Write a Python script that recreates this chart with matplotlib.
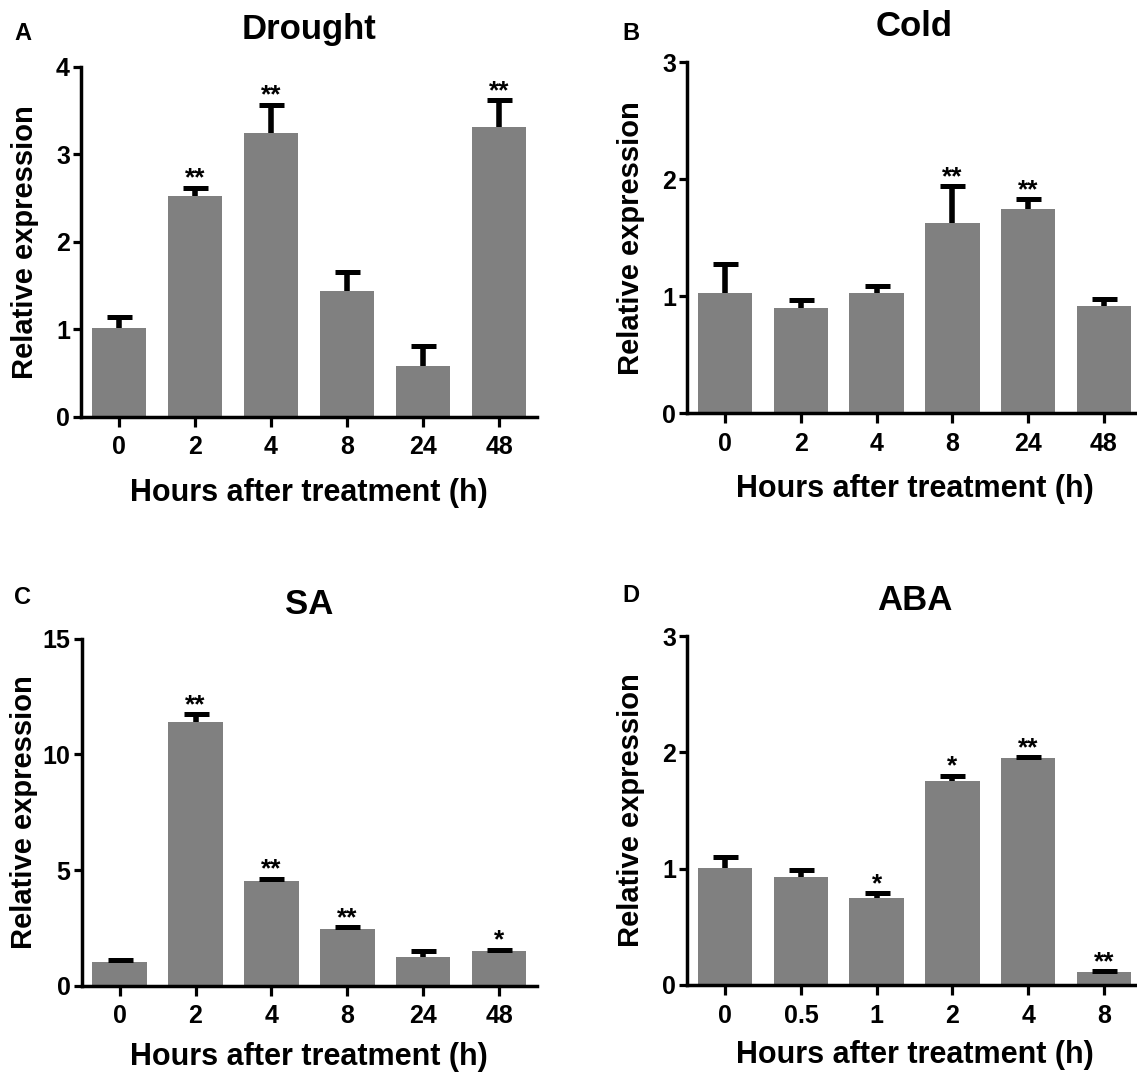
import matplotlib
matplotlib.use("Agg")
import matplotlib.pyplot as plt

plt.rcParams['font.family'] = ['Liberation Sans', 'DejaVu Sans']
plt.rcParams['font.weight'] = 'bold'

# ---- data ----
drought_labels = ["0", "2", "4", "8", "24", "48"]
drought_vals = [1.01, 2.53, 3.25, 1.44, 0.58, 3.31]
drought_err = [0.13, 0.09, 0.32, 0.22, 0.23, 0.31]
drought_sig = ["", "**", "**", "", "", "**"]

cold_labels = ["0", "2", "4", "8", "24", "48"]
cold_vals = [1.03, 0.90, 1.03, 1.63, 1.75, 0.92]
cold_err = [0.25, 0.07, 0.06, 0.31, 0.08, 0.06]
cold_sig = ["", "", "", "**", "**", ""]

sa_labels = ["0", "2", "4", "8", "24", "48"]
sa_vals = [1.03, 11.41, 4.52, 2.47, 1.26, 1.48]
sa_err = [0.10, 0.33, 0.10, 0.07, 0.26, 0.08]
sa_sig = ["", "**", "**", "**", "", "*"]

aba_labels = ["0", "0.5", "1", "2", "4", "8"]
aba_vals = [1.01, 0.93, 0.75, 1.75, 1.95, 0.11]
aba_err = [0.09, 0.06, 0.04, 0.05, 0.01, 0.01]
aba_sig = ["", "", "*", "*", "**", "**"]

W, H = 1137, 1077
fig = plt.figure(figsize=(W / 100, H / 100), dpi=100)


def px_rect(left, right, top, bottom):
    return [left / W, 1 - bottom / H, (right - left) / W, (bottom - top) / H]


panels = [
    dict(rect=px_rect(81, 537, 67, 416.7), labels=drought_labels, vals=drought_vals,
         err=drought_err, sig=drought_sig, ymax=4, yticks=[0, 1, 2, 3, 4],
         title="Drought", letter="A", letter_xy=(14, 34), title_y=30,
         ylab_x=25, xlab_y=493),
    dict(rect=px_rect(687.3, 1141.7, 62.3, 413.3), labels=cold_labels, vals=cold_vals,
         err=cold_err, sig=cold_sig, ymax=3, yticks=[0, 1, 2, 3],
         title="Cold", letter="B", letter_xy=(622, 34), title_y=26,
         ylab_x=631, xlab_y=489),
    dict(rect=px_rect(81.7, 537, 638.6, 985.7), labels=sa_labels, vals=sa_vals,
         err=sa_err, sig=sa_sig, ymax=15, yticks=[0, 5, 10, 15],
         title="SA", letter="C", letter_xy=(14, 598), title_y=604,
         ylab_x=24, xlab_y=1057),
    dict(rect=px_rect(687.3, 1141.7, 636, 985), labels=aba_labels, vals=aba_vals,
         err=aba_err, sig=aba_sig, ymax=3, yticks=[0, 1, 2, 3],
         title="ABA", letter="D", letter_xy=(622, 596), title_y=601,
         ylab_x=631, xlab_y=1055),
]

for p in panels:
    ax = fig.add_axes(p["rect"])
    x = list(range(len(p["labels"])))
    tops = [v + e for v, e in zip(p["vals"], p["err"])]
    ax.bar(x, p["vals"], width=0.72, color="#808080", zorder=2)
    ax.errorbar(x, p["vals"], yerr=[[0] * len(x), p["err"]], fmt="none",
                ecolor="black", elinewidth=4.0, capsize=0, zorder=3)
    ax.plot(x, tops, linestyle="none", marker="_", markersize=18,
            markeredgewidth=3.6, color="black", zorder=3)
    for xi, t, s in zip(x, tops, p["sig"]):
        if s:
            ax.annotate(s, (xi, t), xytext=(0, 1.5), textcoords="offset points",
                        ha="center", va="baseline", fontsize=19, fontweight="bold")
    ax.set_xlim(-0.5, 5.5)
    ax.set_ylim(0, p["ymax"])
    ax.set_yticks(p["yticks"])
    ax.set_xticks(x)
    ax.set_xticklabels(p["labels"])
    for side in ["top", "right"]:
        ax.spines[side].set_visible(False)
    for side in ["left", "bottom"]:
        ax.spines[side].set_linewidth(2.5)
    ax.spines["left"].set_zorder(4)
    ax.tick_params(axis="y", length=6, width=2.3, pad=2, labelsize=18)
    ax.tick_params(axis="x", length=7, width=2.3, pad=6.5, labelsize=18)
    for lab in ax.get_xticklabels() + ax.get_yticklabels():
        lab.set_fontweight("bold")
    ax.set_ylabel("Relative expression", fontsize=21, fontweight="bold", va="center")
    ax.set_xlabel("Hours after treatment (h)", fontsize=22, fontweight="bold", va="center")
    l, b, w, h = p["rect"]
    ax.yaxis.set_label_coords((p["ylab_x"] / W - l) / w, 0.5)
    ax.xaxis.set_label_coords(0.5, ((1 - p["xlab_y"] / H) - b) / h)
    cx = (l + (l + w)) / 2
    fig.text(cx, 1 - p["title_y"] / H, p["title"], ha="center", va="center",
             fontsize=25, fontweight="bold")
    fig.text(p["letter_xy"][0] / W, 1 - p["letter_xy"][1] / H, p["letter"],
             ha="left", va="center", fontsize=17, fontweight="bold")

fig.savefig("out.png", dpi=100)
